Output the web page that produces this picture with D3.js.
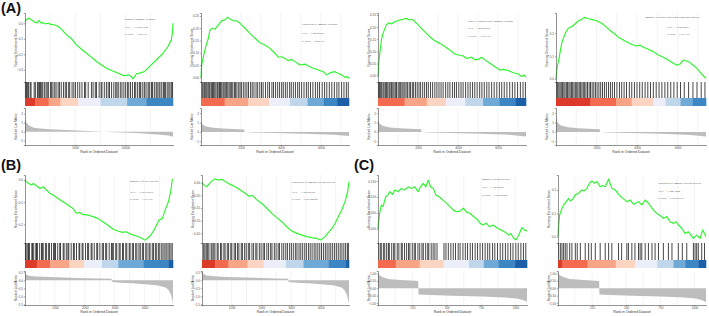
<!DOCTYPE html>
<html>
<head>
<meta charset="utf-8">
<script src="https://cdn.jsdelivr.net/npm/d3@7"></script>
<style>
  body { margin: 0; background: #fff; }
  svg { display: block; font-family: "Liberation Sans", Arial, sans-serif; }
</style>
</head>
<body>
<div id="chart"></div>
<script>
// running enrichment score, [rank % of list, ES]
var esA1 = [[0,0.01],[0.7,0.021],[2.2,0.032],[3.4,0.028],[4.5,0.021],[5.6,0.015],[6.7,0.006],[8.3,0.002],[9.4,0.017],[10.1,0.011],[11.2,0.0],[12.4,0.004],[13.5,-0.004],[15.7,0.0],[16.9,-0.006],[20.2,-0.011],[22.5,-0.021],[24.7,-0.039],[28.1,-0.075],[31.5,-0.1],[34.8,-0.139],[38.2,-0.167],[41.6,-0.193],[44.9,-0.218],[48.3,-0.246],[51.7,-0.268],[55.1,-0.289],[58.4,-0.304],[61.8,-0.317],[65.2,-0.332],[67.4,-0.338],[69.7,-0.332],[71.9,-0.343],[73.0,-0.358],[75.3,-0.325],[77.5,-0.321],[80.9,-0.31],[83.1,-0.289],[86.5,-0.257],[89.9,-0.225],[93.3,-0.193],[96.6,-0.15],[98.9,-0.107],[99.6,-0.06],[100,0.0]];
var esA2 = [[0,0.0],[0.45,0.05],[1.6,0.084],[3.2,0.125],[5.0,0.159],[6.1,0.193],[7.7,0.2],[9.5,0.196],[11.7,0.213],[14.0,0.231],[16.2,0.234],[18.0,0.245],[19.6,0.238],[21.8,0.231],[24.1,0.23],[26.4,0.22],[29.7,0.2],[33.1,0.179],[36.5,0.159],[39.9,0.141],[43.2,0.132],[46.6,0.118],[50.0,0.098],[52.3,0.082],[54.5,0.084],[56.8,0.077],[59.0,0.068],[61.3,0.073],[63.5,0.064],[66.9,0.05],[70.3,0.054],[72.5,0.046],[75.9,0.037],[79.3,0.03],[82.7,0.023],[84.9,0.01],[87.2,0.019],[90.5,0.023],[92.8,0.016],[95.0,0.01],[97.3,0.0],[99.1,0.003],[100,-0.004]];
var esA3 = [[0,0.0],[0.2,0.016],[0.7,0.065],[2.3,0.147],[3.4,0.174],[5.6,0.209],[7.4,0.218],[9.0,0.213],[11.3,0.222],[13.5,0.227],[16.9,0.232],[19.2,0.236],[21.0,0.229],[22.6,0.232],[24.2,0.227],[26.0,0.216],[29.3,0.195],[32.7,0.174],[36.1,0.154],[38.4,0.144],[41.8,0.133],[45.1,0.12],[48.5,0.106],[51.9,0.089],[54.2,0.085],[57.6,0.081],[59.8,0.071],[63.2,0.076],[65.5,0.065],[67.7,0.067],[70.0,0.076],[72.2,0.065],[75.6,0.051],[79.0,0.037],[82.4,0.023],[84.7,0.026],[88.0,0.021],[91.4,0.012],[94.8,0.007],[97.1,-0.004],[98.6,0.003],[100,-0.007]];
var esA4 = [[0,0.0],[0.4,0.032],[0.9,0.054],[2.2,0.098],[3.8,0.156],[4.9,0.178],[6.7,0.207],[8.2,0.222],[10.4,0.229],[12.7,0.241],[14.9,0.255],[17.1,0.261],[18.9,0.27],[21.6,0.264],[23.8,0.261],[27.1,0.255],[30.4,0.244],[33.8,0.226],[37.1,0.207],[39.3,0.197],[41.6,0.182],[44.9,0.171],[48.2,0.159],[51.6,0.149],[53.8,0.145],[56.0,0.149],[58.2,0.139],[61.6,0.13],[64.9,0.12],[68.2,0.105],[71.6,0.095],[74.9,0.083],[78.2,0.069],[80.4,0.061],[82.7,0.066],[84.9,0.083],[87.1,0.079],[89.3,0.072],[92.7,0.054],[94.9,0.039],[97.1,0.022],[100,0.003]];
var esB1 = [[0,0.0],[0.7,-0.005],[2.2,-0.015],[4.5,-0.023],[5.6,-0.015],[7.8,-0.026],[10.1,-0.038],[12.3,-0.03],[14.5,-0.045],[16.8,-0.06],[19.0,-0.068],[22.4,-0.083],[25.7,-0.098],[29.1,-0.113],[32.4,-0.128],[34.7,-0.15],[36.9,-0.146],[39.1,-0.155],[42.5,-0.158],[45.9,-0.165],[49.2,-0.173],[52.6,-0.188],[55.9,-0.203],[59.3,-0.221],[62.6,-0.23],[66.0,-0.236],[68.2,-0.233],[71.6,-0.245],[74.9,-0.251],[78.3,-0.26],[81.0,-0.271],[82.8,-0.263],[85.0,-0.248],[87.2,-0.226],[89.5,-0.195],[90.6,-0.18],[92.8,-0.173],[95.1,-0.128],[96.9,-0.098],[98.4,-0.053],[99.6,0.005]];
var esB2 = [[0,0.0],[0.5,-0.003],[1.8,-0.012],[3.4,-0.016],[4.5,-0.007],[6.3,0.004],[8.6,0.014],[11.3,0.011],[13.6,0.013],[15.8,0.004],[19.2,-0.007],[22.6,-0.016],[26.0,-0.029],[29.4,-0.042],[31.7,-0.053],[34.4,-0.051],[37.3,-0.068],[40.7,-0.082],[44.1,-0.101],[47.5,-0.121],[50.9,-0.138],[54.3,-0.154],[57.7,-0.174],[61.1,-0.191],[64.5,-0.2],[67.9,-0.207],[71.3,-0.213],[74.7,-0.217],[78.1,-0.22],[80.8,-0.226],[83.7,-0.213],[86.0,-0.196],[88.2,-0.183],[90.5,-0.161],[92.8,-0.134],[95.0,-0.108],[97.3,-0.075],[99.1,-0.036],[100,0.004]];
var esC1 = [[0,0.0],[0.2,0.0125],[1.1,0.049],[2.2,0.075],[3.4,0.07],[5.2,0.101],[6.7,0.106],[7.9,0.117],[9.7,0.108],[11.2,0.122],[13.5,0.117],[15.7,0.127],[18.0,0.122],[20.2,0.132],[22.5,0.127],[24.7,0.132],[27.0,0.117],[28.5,0.132],[30.3,0.143],[32.1,0.132],[33.7,0.153],[35.3,0.132],[37.1,0.127],[38.9,0.106],[41.1,0.101],[43.4,0.091],[46.1,0.08],[48.3,0.07],[50.6,0.059],[52.8,0.054],[55.1,0.056],[57.3,0.065],[59.6,0.052],[61.8,0.049],[64.0,0.039],[66.3,0.031],[68.5,0.018],[70.3,0.0125],[72.6,0.018],[74.8,0.007],[77.1,0.0125],[79.8,0.004],[82.5,-0.003],[85.4,-0.01],[87.6,-0.019],[89.2,-0.014],[91.0,-0.029],[92.8,-0.034],[94.4,-0.019],[96.6,0.004],[98.2,-0.003],[100,-0.006]];
var esC2 = [[0,0.0],[0.2,0.029],[1.1,0.093],[2.7,0.121],[3.8,0.136],[5.6,0.15],[7.2,0.164],[8.3,0.153],[10.1,0.161],[11.7,0.179],[13.9,0.186],[16.2,0.2],[17.8,0.196],[19.6,0.207],[21.3,0.229],[22.9,0.239],[24.5,0.229],[26.3,0.236],[28.5,0.214],[30.3,0.219],[31.9,0.214],[34.2,0.247],[36.4,0.207],[38.7,0.2],[40.9,0.181],[43.8,0.164],[46.5,0.15],[48.8,0.157],[51.0,0.139],[54.4,0.15],[56.6,0.136],[58.9,0.157],[61.1,0.143],[64.5,0.114],[66.7,0.1],[69.0,0.09],[71.2,0.079],[73.5,0.086],[75.7,0.064],[78.0,0.057],[79.8,0.064],[81.3,0.05],[83.6,0.036],[85.8,0.014],[88.1,0.021],[91.5,-0.007],[93.7,0.007],[96.0,-0.007],[97.8,0.029],[100,0.0]];

// gene set hits, rank % of list
var hitsA1 = [0.3,1.0,1.6,2.4,3.5,4.1,6.2,7.0,8.4,9.0,9.8,10.5,11.3,12.0,13.1,14.2,15.0,15.8,17.2,18.0,18.9,20.1,21.0,22.4,23.3,24.5,26.0,27.2,28.1,29.5,30.2,31.8,33.0,34.1,35.6,37.0,38.5,40.2,41.0,42.7,44.9,46.0,47.5,48.3,50.1,51.4,52.0,53.6,55.0,56.2,57.1,58.5,60.0,61.3,62.1,63.0,64.4,65.5,66.8,68.0,69.2,70.1,71.3,72.6,74.0,74.8,76.1,77.3,78.0,79.2,80.5,81.1,82.4,83.6,84.3,85.5,86.2,87.4,88.6,89.3,90.5,91.2,92.4,93.5,94.2,95.0,96.1,97.2,98.0,99.1,99.7];
var hitsA2 = [0.5,1.2,2.0,2.6,3.3,4.0,4.8,5.5,6.1,7.0,7.8,8.5,9.3,10.1,11.0,11.6,12.5,13.2,14.0,14.9,15.6,16.4,17.3,18.1,19.0,19.8,20.7,21.5,22.6,23.4,24.3,25.5,26.4,27.3,28.6,29.8,31.0,32.1,33.5,34.6,35.8,37.2,38.3,39.7,40.9,42.0,43.6,45.1,46.3,47.9,49.0,50.4,51.8,53.1,54.5,55.6,57.0,58.3,59.9,61.0,62.4,63.8,65.3,66.5,68.0,69.6,71.2,72.5,74.0,75.6,77.3,78.8,80.1,81.9,83.5,85.0,86.7,88.4,90.1,91.8,93.2,95.0,96.6,98.2,99.5];
var hitsA3 = [0.3,1.0,1.8,2.5,3.4,4.1,5.0,5.8,6.6,7.5,8.2,9.1,10.0,10.8,11.7,12.5,13.6,14.4,15.3,16.2,17.0,18.1,19.0,20.0,21.1,22.0,23.2,24.1,25.3,26.5,27.7,28.8,30.2,31.5,32.8,34.0,35.5,36.9,38.4,39.8,41.2,42.6,44.0,45.7,47.2,48.6,50.3,51.7,53.0,54.6,56.1,57.5,59.2,60.8,62.3,63.9,65.4,67.0,68.7,70.2,71.8,73.5,75.0,76.8,78.5,80.3,82.0,83.6,85.3,87.1,89.0,90.8,92.5,94.3,96.2,98.0,99.6];
var hitsA4 = [0.4,1.1,1.9,2.7,3.5,4.3,5.2,6.0,6.9,7.7,8.6,9.4,10.3,11.1,12.0,12.9,13.8,14.6,15.5,16.4,17.3,18.2,19.1,20.0,21.0,22.1,23.0,24.1,25.2,26.3,27.4,28.6,29.8,31.0,32.3,33.6,35.0,36.3,37.6,39.0,40.6,42.3,43.8,45.4,47.0,48.9,50.5,52.3,54.0,55.8,57.5,59.4,61.2,63.0,64.9,66.8,68.7,70.6,72.6,74.5,76.5,78.6,80.8,83.0,85.5,88.4,91.3,94.0,96.8,99.3];
var hitsB1 = [0.3,0.8,1.9,2.4,3.0,4.6,5.1,5.9,7.3,7.8,8.4,9.9,11.2,11.7,12.3,13.8,14.6,16.0,16.5,17.9,19.3,20.0,20.6,22.1,23.5,24.0,25.8,26.4,27.9,29.0,29.6,31.2,32.7,33.3,34.8,36.5,37.0,38.6,39.2,40.9,42.3,43.0,44.7,45.3,46.8,48.5,49.1,50.6,52.2,53.0,54.5,55.2,56.9,58.4,59.0,59.7,61.3,62.0,63.6,64.3,65.9,66.5,68.1,68.8,70.4,71.0,72.5,73.3,74.8,75.6,77.0,77.9,79.3,80.1,81.6,82.4,83.8,84.5,86.0,86.8,88.1,89.0,90.3,91.1,92.4,93.3,94.5,95.4,96.6,97.5,98.6,99.5];
var hitsB2 = [0.6,1.3,2.1,3.2,3.9,4.7,6.2,6.9,8.0,8.8,10.3,11.0,12.6,13.4,14.9,15.7,17.2,18.1,19.6,20.3,21.9,22.8,24.2,25.1,26.7,27.5,29.0,30.1,31.5,32.4,34.0,35.1,36.6,37.4,39.0,40.2,41.6,42.5,44.1,45.3,46.7,47.6,49.2,50.4,51.8,52.7,54.3,55.6,57.0,58.1,59.6,60.8,62.1,63.5,64.6,66.0,67.2,68.5,69.9,71.0,72.4,73.6,74.9,76.3,77.5,78.8,80.1,81.3,82.6,83.9,85.1,86.4,87.6,88.9,90.2,91.4,92.7,94.0,95.2,96.5,97.7,98.9,99.6];
var hitsC1 = [0.4,1.5,2.2,3.6,4.5,5.8,7.0,7.6,9.2,10.5,11.3,12.9,14.0,15.6,16.3,17.8,19.2,20.5,21.4,23.0,24.3,25.1,26.8,28.0,29.5,30.4,32.0,33.4,34.1,35.7,37.0,38.2,39.6,44.3,45.6,47.2,48.9,50.5,52.0,53.8,55.1,57.0,58.6,60.1,61.9,63.4,65.2,66.8,68.5,70.2,71.9,73.6,75.0,76.9,78.4,80.2,82.0,83.7,85.5,87.2,89.0,90.6,92.5,94.1,95.9,97.6,99.2];
var hitsC2 = [0.4,1.6,2.7,3.8,4.9,6.1,7.9,9.4,11.7,13.0,15.1,18.4,20.7,22.5,25.2,28.5,31.9,34.2,36.4,40.9,43.0,46.5,47.6,49.9,52.0,54.4,55.5,56.6,58.9,61.1,63.5,65.6,67.9,71.2,74.6,77.0,81.3,84.0,87.0,91.5,92.6,93.7,94.8,97.1,99.0];

// ranked list metric, [rank % of list, value]
var metricA1 = [[0,1.5],[1,1.0],[3,0.65],[6,0.45],[10,0.35],[20,0.25],[35,0.12],[50,0.02],[60,-0.05],[75,-0.15],[90,-0.3],[97,-0.42],[100,-0.55]];
var metricA2 = [[0,1.1],[1,0.8],[3,0.6],[8,0.45],[15,0.35],[25,0.28],[29.2,0.25],[29.4,-0.02],[35,-0.06],[50,-0.12],[70,-0.2],[90,-0.3],[100,-0.45]];
var metricA3 = [[0,1.3],[1,0.9],[3,0.65],[8,0.48],[15,0.38],[25,0.3],[29.2,0.27],[29.4,-0.02],[35,-0.06],[50,-0.12],[70,-0.2],[90,-0.32],[100,-0.5]];
var metricA4 = [[0,1.7],[1,1.0],[3,0.7],[8,0.5],[15,0.38],[25,0.3],[29.2,0.27],[29.4,-0.02],[35,-0.06],[50,-0.12],[70,-0.2],[90,-0.32],[100,-0.5]];
var metricB1 = [[0,0.44],[1,0.35],[3,0.27],[8,0.23],[17,0.2],[35,0.15],[50,0.12],[58.5,0.09],[58.7,-0.1],[65,-0.15],[75,-0.2],[85,-0.27],[90,-0.32],[95,-0.45],[97,-0.6],[98.5,-0.85],[99.5,-1.2],[100,-1.5]];
var metricB2 = [[0,0.55],[1,0.4],[3,0.3],[8,0.25],[17,0.21],[35,0.16],[50,0.12],[58.7,0.09],[58.9,-0.1],[65,-0.15],[75,-0.2],[85,-0.27],[90,-0.33],[95,-0.45],[97,-0.62],[98.5,-0.88],[99.5,-1.25],[100,-1.5]];
var metricC1 = [[0,0.95],[2,0.8],[5,0.68],[8,0.61],[15,0.56],[25,0.5],[27,0.47],[27.2,-0.42],[35,-0.45],[50,-0.5],[70,-0.55],[85,-0.62],[93,-0.7],[97,-0.8],[100,-0.9]];
var metricC2 = [[0,1.0],[2,0.82],[5,0.7],[8,0.62],[15,0.57],[25,0.51],[27.8,0.48],[28.0,-0.42],[35,-0.45],[50,-0.5],[70,-0.55],[85,-0.62],[93,-0.7],[97,-0.8],[100,-0.92]];

// colour bar: [end rank %, colour class]
var bandsA1 = [[7,0],[16,1],[24,2],[36,3],[51,4],[69,5],[82,6],[100,7]];
var bandsA2 = [[16,1],[32,2],[46,3],[60,4],[72,5],[83,6],[92,7],[100,8]];
var bandsA3 = [[18,1],[33,2],[46,3],[59,4],[71,5],[82,6],[93,7],[100,8]];
var bandsA4 = [[23,0],[40,1],[50.5,2],[65,3],[73,4],[83,5],[91,6],[100,7]];
var bandsB1 = [[8,0],[17,1],[30,2],[40,3],[52,4],[63,5],[80,6],[97,7],[100,8]];
var bandsB2 = [[9,0],[18,1],[31,2],[42,3],[57,4],[69,5],[86,6],[98,7],[100,8]];
var bandsC1 = [[12,1],[28,2],[44,3],[61,4],[71,5],[81,6],[92,7],[100,8]];
var bandsC2 = [[3,0],[20,1],[39,2],[52,3],[67,4],[78,5],[86,6],[95,7],[100,8]];

var terms = ["humoral immune response", "regulation of immune response", "positive regulation of immune response",
             "immune response-regulating signaling pathway", "immune effector process", "regulation of immune system process",
             "immune system process", "regulation of immune system process"];
var nesVals = ["-1.36651346", "1.45645059", "1.40656909", "1.59658411", "-1.66776070", "-1.62749050", "1.74658461", "1.74437484"];
var pVals = ["1.00E-07", "9.29E-07", "3.61E-05", "1.93E-05", "1.77E-05", "0.00144722", "0.00625412", "0.00270536"];

var palette = ["#dc3b2c", "#f26a4f", "#f7a487", "#fcd4c2", "#eceef9", "#c0d6ea", "#6fa9d6", "#3b86c3", "#1d5ea8"];

var rows = [
  { top: 13, esBottom: 82, hitBottom: 98, colBottom: 106, rlTop: 108, rlBottom: 145, tickY: 148.5, titleY: 152.5 },
  { top: 175, esBottom: 243, hitBottom: 260, colBottom: 268, rlTop: 271, rlBottom: 305, tickY: 308.5, titleY: 312.5 }
];

var panels = [
  { row: 0, x0: 25, x1: 173, n: 14750, ticks: [5000, 10000], step: 2500, es: esA1, hits: hitsA1, metric: metricA1, bands: bandsA1,
    esDom: [-0.378, 0.066], esTicks: [0, -0.1, -0.2, -0.3], esFmt: ".1f", rlDom: [-1.48, 2.63], rlTicks: [2, 1, 0, -1], rlFmt: "d",
    ann: [100, 6, 14, 21] },
  { row: 0, x0: 201, x1: 349, n: 7400, ticks: [2000, 4000, 6000], step: 1000, es: esA2, hits: hitsA2, metric: metricA2, bands: bandsA2,
    esDom: [-0.019, 0.262], esTicks: [0.25, 0.2, 0.15, 0.1, 0.05, 0], esFmt: ".2f", rlDom: [-1.4, 2.55], rlTicks: [2, 1, 0, -1], rlFmt: "d",
    ann: [101, 11, 20, 28] },
  { row: 0, x0: 378, x1: 526, n: 7400, ticks: [2000, 4000, 6000], step: 1000, es: esA3, hits: hitsA3, metric: metricA3, bands: bandsA3,
    esDom: [-0.026, 0.258], esTicks: [0.25, 0.2, 0.15, 0.1, 0.05, 0], esFmt: ".2f", rlDom: [-1.4, 2.55], rlTicks: [2, 1, 0, -1], rlFmt: "d",
    ann: [90, 8, 15, 23] },
  { row: 0, x0: 556, x1: 706, n: 7400, ticks: [2000, 4000, 6000], step: 1000, es: esA4, hits: hitsA4, metric: metricA4, bands: bandsA4,
    esDom: [-0.013, 0.289], esTicks: [0.2, 0.1, 0], esFmt: ".1f", rlDom: [-1.4, 2.55], rlTicks: [2, 1, 0, -1], rlFmt: "d",
    ann: [89, 4, 14, 21], annRight: true },
  { row: 1, x0: 25, x1: 173, n: 4950, ticks: [1000, 2000, 3000, 4000], step: 500, es: esB1, hits: hitsB1, metric: metricB1, bands: bandsB1,
    esDom: [-0.284, 0.0226], esTicks: [0, -0.1, -0.2], esFmt: ".1f", rlDom: [-1.54, 0.58], rlTicks: [0.5, 0, -0.5, -1, -1.5], rlFmt: ".1f",
    ann: [105, 6, 17, 24] },
  { row: 1, x0: 202, x1: 349, n: 4950, ticks: [1000, 2000, 3000, 4000], step: 500, es: esB2, hits: hitsB2, metric: metricB2, bands: bandsB2,
    esDom: [-0.238, 0.03], esTicks: [0, -0.05, -0.1, -0.15, -0.2], esFmt: ".2f", rlDom: [-1.54, 0.58], rlTicks: [0.5, 0, -0.5, -1, -1.5], rlFmt: ".1f",
    ann: [90, 7, 17, 24] },
  { row: 1, x0: 378, x1: 527, n: 1085, ticks: [250, 500, 750, 1000], step: 125, es: esC1, hits: hitsC1, metric: metricC1, bands: bandsC1,
    esDom: [-0.044, 0.169], esTicks: [0.15, 0.1, 0.05, 0], esFmt: ".3f", rlDom: [-1.13, 1.16], rlTicks: [1, 0.5, 0, -0.5, -1], rlFmt: ".2f",
    ann: [104, 4, 12, 20] },
  { row: 1, x0: 558, x1: 706, n: 1085, ticks: [250, 500, 750, 1000], step: 125, es: esC2, hits: hitsC2, metric: metricC2, bands: bandsC2,
    esDom: [-0.027, 0.264], esTicks: [0.2, 0.1, 0], esFmt: ".1f", rlDom: [-1.13, 1.16], rlTicks: [1, 0.5, 0, -0.5, -1], rlFmt: ".2f",
    ann: [100, 8, 16, 23] }
];

var svg = d3.select("#chart").append("svg")
  .attr("width", 709).attr("height", 316);

var axisColor = "#4d4d4d";

panels.forEach(function(p, i) {
  var r = rows[p.row];
  var g = svg.append("g");

  var x = d3.scaleLinear().domain([0, 100]).range([p.x0, p.x1]);        // rank % of list
  var xRank = d3.scaleLinear().domain([0, p.n]).range([p.x0, p.x1]);     // rank
  var yEs = d3.scaleLinear().domain(p.esDom).range([r.esBottom, r.top]);
  var yRl = d3.scaleLinear().domain(p.rlDom).range([r.rlBottom, r.rlTop]);

  // vertical grid lines (major + minor)
  var grid = d3.range(p.step, p.n, p.step);
  [[r.top, r.esBottom], [r.rlTop, r.rlBottom]].forEach(function(span) {
    g.selectAll(null).data(grid).enter().append("line")
      .attr("x1", function(d) { return xRank(d); })
      .attr("x2", function(d) { return xRank(d); })
      .attr("y1", span[0]).attr("y2", span[1])
      .attr("stroke", "#e6e6e6").attr("stroke-width", 0.5);
  });

  // running enrichment score
  g.append("path")
    .datum(p.es)
    .attr("d", d3.line().x(function(d) { return x(d[0]); }).y(function(d) { return yEs(d[1]); }))
    .attr("fill", "none")
    .attr("stroke", "#2cf52c")
    .attr("stroke-width", 1.15)
    .attr("stroke-linejoin", "round");

  // left axis of ES panel
  var ay = g.append("g")
    .attr("transform", "translate(" + p.x0 + ",0)")
    .call(d3.axisLeft(yEs).tickValues(p.esTicks).tickFormat(d3.format(p.esFmt)).tickSize(1.2).tickPadding(1));
  ay.select(".domain").attr("stroke", axisColor).attr("stroke-width", 0.6);
  ay.selectAll(".tick line").attr("stroke", axisColor).attr("stroke-width", 0.5);
  ay.selectAll("text").attr("font-size", 3).attr("fill", axisColor);

  // gene hits
  g.selectAll(null).data(p.hits).enter().append("line")
    .attr("x1", function(d) { return x(d); })
    .attr("x2", function(d) { return x(d); })
    .attr("y1", r.esBottom).attr("y2", r.hitBottom)
    .attr("stroke", "#000")
    .attr("stroke-opacity", 0.72)
    .attr("stroke-width", 1.0);

  // colour bar
  g.selectAll(null).data(p.bands).enter().append("rect")
    .attr("x", function(d, j) { return x(j ? p.bands[j - 1][0] : 0); })
    .attr("width", function(d, j) { return x(d[0]) - x(j ? p.bands[j - 1][0] : 0) + 0.3; })
    .attr("y", r.hitBottom)
    .attr("height", r.colBottom - r.hitBottom)
    .attr("fill", function(d) { return palette[d[1]]; });

  // ranked list metric
  g.append("path")
    .datum(p.metric)
    .attr("d", d3.area().x(function(d) { return x(d[0]); }).y0(yRl(0)).y1(function(d) { return yRl(d[1]); }))
    .attr("fill", "#bdbdbd");

  var ar = g.append("g")
    .attr("transform", "translate(" + p.x0 + ",0)")
    .call(d3.axisLeft(yRl).tickValues(p.rlTicks).tickFormat(d3.format(p.rlFmt)).tickSize(1.2).tickPadding(1));
  ar.select(".domain").attr("stroke", axisColor).attr("stroke-width", 0.6);
  ar.selectAll(".tick line").attr("stroke", axisColor).attr("stroke-width", 0.5);
  ar.selectAll("text").attr("font-size", 3).attr("fill", axisColor);

  var ax = g.append("g")
    .attr("transform", "translate(0," + r.rlBottom + ")")
    .call(d3.axisBottom(xRank).tickValues(p.ticks).tickSize(1.2).tickPadding(0.8).tickFormat(d3.format("d")));
  ax.select(".domain").attr("stroke", axisColor).attr("stroke-width", 0.6);
  ax.selectAll(".tick line").attr("stroke", axisColor).attr("stroke-width", 0.5);
  ax.selectAll("text").attr("font-size", 3).attr("fill", axisColor);

  // axis titles
  g.append("text")
    .attr("x", (p.x0 + p.x1) / 2).attr("y", r.titleY)
    .attr("text-anchor", "middle")
    .attr("font-size", 3.4).attr("fill", "#333")
    .text("Rank in Ordered Dataset");

  g.append("text")
    .attr("transform", "translate(" + (p.x0 - 8.5) + "," + ((r.top + r.esBottom) / 2) + ") rotate(-90)")
    .attr("text-anchor", "middle")
    .attr("font-size", 3.2).attr("fill", "#333")
    .text("Running Enrichment Score");

  g.append("text")
    .attr("transform", "translate(" + (p.x0 - 8.5) + "," + ((r.rlTop + r.rlBottom) / 2) + ") rotate(-90)")
    .attr("text-anchor", "middle")
    .attr("font-size", 3.2).attr("fill", "#333")
    .text("Ranked List Metric");

  // annotation
  var a = p.ann;
  var lines = [terms[i], "NES = " + nesVals[i], "p-value = " + pVals[i]];
  lines.forEach(function(t, k) {
    g.append("text")
      .attr("x", p.x0 + a[0] + (p.annRight && k ? 22 : 0))
      .attr("y", r.top + a[k + 1] + 1)
      .attr("font-size", 2.9)
      .attr("fill", "#555")
      .attr("font-family", "'Liberation Serif', serif")
      .text(t);
  });
});

// panel letters
[["(A)", 1, 13], ["(B)", 1, 170], ["(C)", 354, 170]].forEach(function(l) {
  svg.append("text")
    .attr("x", l[1]).attr("y", l[2])
    .attr("font-size", 14.5)
    .attr("font-weight", "bold")
    .attr("fill", "#111")
    .text(l[0]);
});
</script>
</body>
</html>
